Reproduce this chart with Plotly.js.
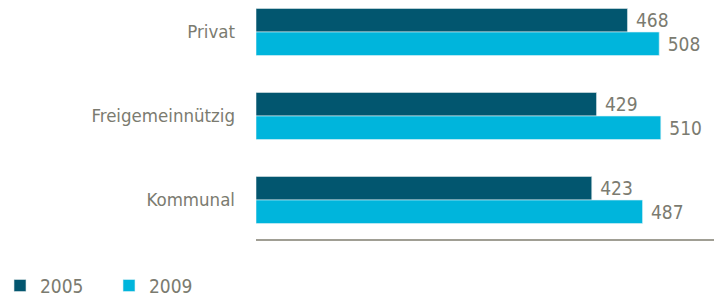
<!DOCTYPE html>
<html><head><meta charset="utf-8">
<script src="https://cdn.plot.ly/plotly-3.0.1.min.js"></script>
<style>html,body{margin:0;padding:0;background:#fff}</style>
</head><body>
<div id="chart" style="width:714px;height:296px"></div>
<script>
const categories = ["Privat", "Freigemeinnützig", "Kommunal"];
const values2005 = [468, 429, 423];
const values2009 = [508, 510, 487];
const seriesNames = ["2005", "2009"];

const FONT = "'DejaVu Sans Condensed', 'Liberation Sans Narrow', sans-serif";
const GREY = "#7b7b70";

const data = [
  {type:"bar", orientation:"h", name:seriesNames[0], y:categories, x:values2005,
   marker:{color:"#02566f", line:{color:"#dfe8ea", width:0.6}},
   text:values2005.map(v=>" "+v), textposition:"outside", cliponaxis:false,
   textfont:{family:FONT, size:19, color:GREY}, hoverinfo:"skip"},
  {type:"bar", orientation:"h", name:seriesNames[1], y:categories, x:values2009,
   marker:{color:"#00b5dc", line:{color:"#dff1f7", width:0.6}},
   text:values2009.map(v=>" "+v), textposition:"outside", cliponaxis:false,
   textfont:{family:FONT, size:19, color:GREY}, hoverinfo:"skip"}
];

const layout = {
  width:714, height:296,
  margin:{l:256, r:0, t:0, b:56},
  paper_bgcolor:"#fff", plot_bgcolor:"#fff",
  barmode:"group", bargap:0.44, bargroupgap:0,
  font:{family:FONT, color:GREY, size:18},
  xaxis:{range:[0,577], showgrid:false, zeroline:false, showticklabels:false, ticks:"", fixedrange:true},
  yaxis:{range:[2.476,-0.381], showgrid:false, zeroline:false, ticks:"",
         ticklabelstandoff:20, tickfont:{family:FONT, size:18.5, color:GREY},
         showline:false, fixedrange:true},
  shapes:[{type:"line", xref:"paper", yref:"paper", x0:0, x1:1, y0:0, y1:0,
           line:{color:"#a09e94", width:2}}],
  showlegend:true,
  legend:{orientation:"h", xref:"container", yref:"container", x:0, y:0.035,
          xanchor:"left", yanchor:"middle", font:{family:FONT, size:19, color:GREY},
          traceorder:"normal", itemwidth:30, entrywidth:64}
};

Plotly.newPlot("chart", data, layout, {displayModeBar:false, staticPlot:true});
</script>
</body></html>
